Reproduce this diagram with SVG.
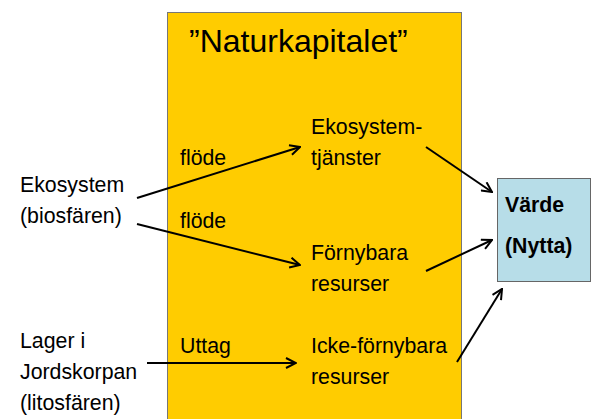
<svg xmlns="http://www.w3.org/2000/svg" width="595" height="419" viewBox="0 0 595 419">
<style>
text{font-family:"Liberation Sans",Arial,sans-serif;font-size:21.3px;fill:#000}
.title{font-size:32px}
.b{font-weight:bold}
.c{stroke:#000;stroke-width:2;fill:none;marker-end:url(#ah)}
</style>
<defs>
<marker id="ah" viewBox="0 0 12 12" refX="11" refY="6" markerWidth="12" markerHeight="12" markerUnits="userSpaceOnUse" orient="auto">
<polyline points="1,1 11,6 1,11" fill="none" stroke="#000" stroke-width="2"/>
</marker>
</defs>
<rect width="595" height="419" fill="#fff"/>
<g id="naturkapitalet">
<rect x="167.5" y="12.5" width="294" height="420" fill="#FFCC00" stroke="#777" stroke-width="1"/>
<text class="title" x="189" y="52">”Naturkapitalet”</text>
</g>
<g id="ekosystemtjanster"><text x="311" y="134">Ekosystem-</text><text x="311" y="165">tjänster</text></g>
<g id="fornybara"><text x="311" y="260">Förnybara</text><text x="311" y="291">resurser</text></g>
<g id="ickefornybara"><text x="311" y="353">Icke-förnybara</text><text x="311" y="384">resurser</text></g>
<g id="ekosystem"><text x="20" y="192">Ekosystem</text><text x="20" y="223">(biosfären)</text></g>
<g id="lager"><text x="20" y="348">Lager i</text><text x="20" y="379">Jordskorpan</text><text x="20" y="410">(litosfären)</text></g>
<g id="varde">
<rect x="497.5" y="178.5" width="93" height="103" fill="#B7DDE8" stroke="#666" stroke-width="1"/>
<text class="b" x="505" y="212">Värde</text>
<text class="b" x="505" y="253">(Nytta)</text>
</g>
<g id="labels">
<text x="180" y="165">flöde</text>
<text x="180" y="228">flöde</text>
<text x="180" y="353">Uttag</text>
</g>
<g id="connectors">
<line class="c" x1="137" y1="198" x2="300" y2="147"/>
<line class="c" x1="137" y1="224" x2="300" y2="265"/>
<line class="c" x1="147" y1="363" x2="296" y2="363"/>
<line class="c" x1="426" y1="147" x2="492" y2="192"/>
<line class="c" x1="426" y1="271" x2="492" y2="240"/>
<line class="c" x1="457" y1="362" x2="502" y2="289"/>
</g>
</svg>
